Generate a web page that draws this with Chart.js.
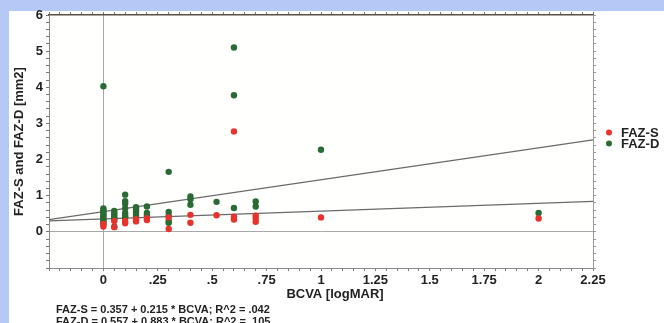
<!DOCTYPE html>
<html>
<head>
<meta charset="utf-8">
<script src="https://cdn.jsdelivr.net/npm/chart.js@4.4.1/dist/chart.umd.min.js"></script>
<style>
  html, body { margin: 0; padding: 0; }
  body { width: 664px; height: 323px; background: #b5c9f7; position: relative; overflow: hidden; font-family: "Liberation Sans", Arial, sans-serif; }
  #panel { position: absolute; left: 9px; top: 11px; right: 0; bottom: 0; background: #ffffff; }
  #wrap { position: absolute; left: 0; top: 0; width: 664px; height: 323px; }
  .note { position: absolute; left: 56px; font-weight: bold; font-size: 11px; color: #222; white-space: nowrap; }
</style>
</head>
<body>
<div id="panel"></div>
<div id="wrap"><canvas id="c" width="664" height="323"></canvas></div>
<div class="note" style="top:303px;">FAZ-S = 0.357 + 0.215 * BCVA; R^2 = .042</div>
<div class="note" style="top:315px;">FAZ-D = 0.557 + 0.883 * BCVA; R^2 = .105</div>
<script>
// ---- data ----
const seriesNames = ['FAZ-S', 'FAZ-D'];
const xTitle = 'BCVA [logMAR]';
const yTitle = 'FAZ-S and FAZ-D [mm2]';

const fazS_x = [0, 0, 0.05, 0.05, 0.1, 0.1, 0.15, 0.15, 0.2, 0.2, 0.3, 0.3, 0.4, 0.4, 0.52, 0.6, 0.6, 0.6, 0.7, 0.7, 0.7, 1, 2];
const fazS_y = [0.15, 0.22, 0.30, 0.13, 0.30, 0.24, 0.35, 0.29, 0.38, 0.33, 0.40, 0.08, 0.47, 0.25, 0.46, 2.78, 0.42, 0.34, 0.45, 0.37, 0.28, 0.40, 0.37];

const fazD_x = [0, 0, 0, 0, 0, 0, 0, 0, 0, 0, 0,
                0.05, 0.05, 0.05, 0.05, 0.05, 0.05,
                0.1, 0.1, 0.1, 0.1, 0.1, 0.1, 0.1,
                0.15, 0.15, 0.15, 0.15, 0.15,
                0.2, 0.2, 0.2,
                0.3, 0.3, 0.3, 0.3, 0.3,
                0.4, 0.4, 0.4,
                0.52,
                0.6, 0.6, 0.6,
                0.7, 0.7,
                1, 2];
const fazD_y = [4.03, 0.65, 0.60, 0.55, 0.50, 0.45, 0.40, 0.35, 0.30, 0.25, 0.22,
                0.58, 0.52, 0.46, 0.40, 0.35, 0.14,
                1.03, 0.85, 0.78, 0.65, 0.52, 0.45, 0.40,
                0.68, 0.62, 0.55, 0.47, 0.40,
                0.70, 0.52, 0.45,
                1.66, 0.55, 0.45, 0.30, 0.25,
                0.98, 0.90, 0.75,
                0.83,
                5.10, 3.78, 0.66,
                0.84, 0.70,
                2.27, 0.52];

// regression line end points (x from -0.25 to 2.25)
const fitX = [-0.25, 2.25];
const fitS_y = [0.303, 0.841];
const fitD_y = [0.336, 2.544];

const xMin = -0.25, xMax = 2.25, xStep = 0.05;
const yMin = -1, yMax = 6, yStep = 0.2;

// ---- styles ----
const RED = '#e8332c';
const GREEN = '#2a6b33';
const FONT = '"Liberation Sans", Arial, sans-serif';

function pts(xs, ys) { return xs.map((x, i) => ({ x: x, y: ys[i] })); }

function xLabel(v) {
  const r = Math.round(v * 100);
  if (r < 0 || r % 25 !== 0) return '';
  let s = String(r / 100);
  if (s.startsWith('0.')) s = s.slice(1);
  return s;
}
function yLabel(v) {
  const r = Math.round(v * 10);
  if (r % 10 !== 0 || r < 0) return '';
  return String(r / 10);
}

const decor = {
  id: 'decor',
  beforeDraw(chart) {
    const { ctx, chartArea: a } = chart;
    ctx.save();
    ctx.fillStyle = '#fffffe';
    ctx.fillRect(a.left, a.top, a.right - a.left, a.bottom - a.top);
    ctx.restore();
  },
  afterDraw(chart) {
    const { ctx } = chart;
    ctx.save();
    // x axis title
    ctx.fillStyle = '#222';
    ctx.font = 'bold 13px ' + FONT;
    ctx.textAlign = 'center';
    ctx.textBaseline = 'middle';
    ctx.fillText(xTitle, 335, 294);
    // legend
    const items = [[seriesNames[0], RED, 132.5], [seriesNames[1], GREEN, 143.5]];
    ctx.font = 'bold 13px ' + FONT;
    ctx.textAlign = 'left';
    items.forEach(([t, c, y]) => {
      ctx.fillStyle = c;
      ctx.beginPath();
      ctx.arc(609, y, 3, 0, Math.PI * 2);
      ctx.fill();
      ctx.fillStyle = '#222';
      ctx.fillText(t, 621, y + 0.5);
    });
    ctx.restore();
  }
};

new Chart(document.getElementById('c'), {
  type: 'scatter',
  data: {
    datasets: [
      { label: seriesNames[0], data: pts(fazS_x, fazS_y), backgroundColor: RED, borderWidth: 0, pointRadius: 3.2, pointHoverRadius: 3.2, order: 0 },
      { label: seriesNames[1], data: pts(fazD_x, fazD_y), backgroundColor: GREEN, borderWidth: 0, pointRadius: 3.2, pointHoverRadius: 3.2, order: 1 },
      { type: 'line', label: 'fitS', data: pts(fitX, fitS_y), borderColor: '#6a6a6a', borderWidth: 1.3, pointRadius: 0, fill: false, order: 2 },
      { type: 'line', label: 'fitD', data: pts(fitX, fitD_y), borderColor: '#6a6a6a', borderWidth: 1.3, pointRadius: 0, fill: false, order: 2 }
    ]
  },
  options: {
    responsive: false,
    animation: false,
    events: [],
    layout: { padding: { left: 0, right: 51, top: 5, bottom: 0 } },
    plugins: { legend: { display: false }, tooltip: { enabled: false } },
    scales: {
      x: {
        type: 'linear', position: 'bottom', min: xMin, max: xMax,
        afterFit: s => { s.height = 55; },
        ticks: { stepSize: xStep, autoSkip: false, maxRotation: 0, padding: 2, color: '#222', font: { family: FONT, size: 13, weight: 'bold' }, callback: xLabel },
        grid: { color: c => (c.tick && Math.abs(c.tick.value) < 1e-9) ? '#a8a8a8' : 'rgba(0,0,0,0)', tickColor: '#777', tickLength: 3, lineWidth: 1 },
        border: { color: '#8a8a8a', width: 1 }
      },
      x2: {
        type: 'linear', position: 'top', min: xMin, max: xMax,
        afterFit: s => { s.height = 10; },
        ticks: { stepSize: xStep, autoSkip: false, display: false },
        grid: { drawOnChartArea: false, tickColor: '#777', tickLength: 3 },
        border: { color: '#5a4f48', width: 1.5 }
      },
      y: {
        type: 'linear', position: 'left', min: yMin, max: yMax,
        afterFit: s => { s.width = 49; },
        ticks: { stepSize: yStep, autoSkip: false, padding: 3, color: '#222', font: { family: FONT, size: 13, weight: 'bold' }, callback: yLabel },
        grid: { color: c => (c.tick && Math.abs(c.tick.value) < 1e-9) ? '#a8a8a8' : 'rgba(0,0,0,0)', tickColor: '#777', tickLength: 3, lineWidth: 1 },
        border: { color: '#8a8a8a', width: 1 },
        title: { display: true, text: yTitle, color: '#222', font: { family: FONT, size: 13, weight: 'bold' }, padding: { top: 12, bottom: 0 } }
      },
      y2: {
        type: 'linear', position: 'right', min: yMin, max: yMax,
        afterFit: s => { s.width = 20; },
        ticks: { stepSize: yStep, autoSkip: false, display: false },
        grid: { drawOnChartArea: false, tickColor: '#999', tickLength: 3 },
        border: { color: '#9a9a9a', width: 1 }
      }
    }
  },
  plugins: [decor]
});
</script>
</body>
</html>
